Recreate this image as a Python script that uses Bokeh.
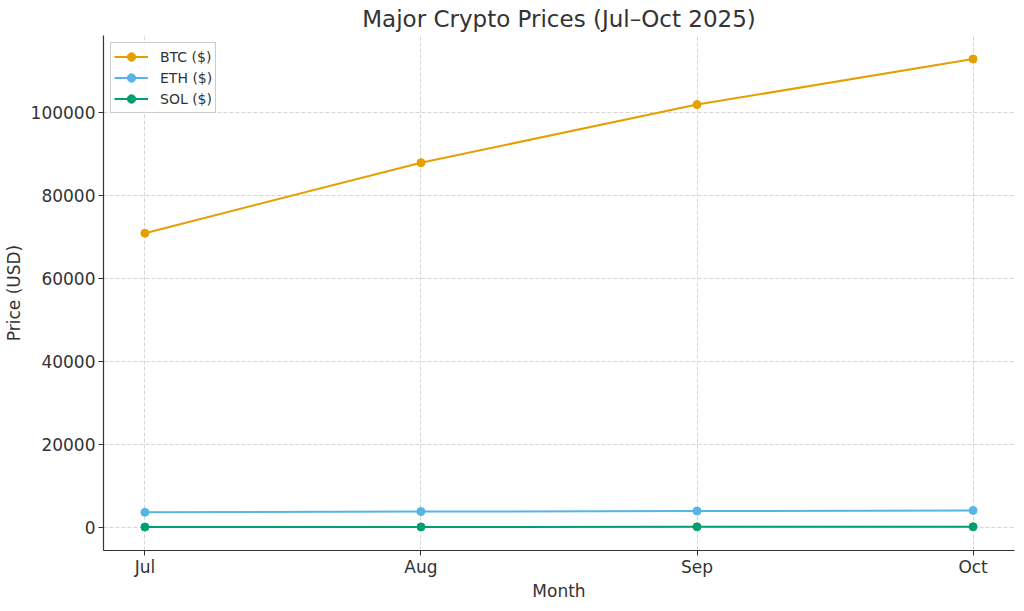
from bokeh.plotting import figure
from bokeh.models import FixedTicker, Range1d, Legend, LegendItem
from bokeh.embed import file_html
from bokeh.resources import INLINE

months = ["Jul", "Aug", "Sep", "Oct"]
btc = [71000, 88000, 102000, 113000]
eth = [3700, 3900, 4000, 4150]
sol = [160, 185, 210, 220]

series = [("BTC ($)", btc, "#E69F00"), ("ETH ($)", eth, "#56B4E9"), ("SOL ($)", sol, "#009E73")]

x = list(range(len(months)))

FONT = "DejaVu Sans"

p = figure(width=1016, height=603, output_backend="svg", toolbar_location=None,
           x_range=Range1d(-0.15, 3.15), y_range=Range1d(-5500, 118660),
           min_border_left=90, min_border_right=2, min_border_top=0, min_border_bottom=0)

p.title.text = "Major Crypto Prices (Jul\u2013Oct 2025)"
p.title.align = "center"
p.title.text_font = FONT
p.title.text_font_size = "23px"
p.title.text_font_style = "normal"
p.title.text_color = "#333333"
p.title.standoff = 7

items = []
for name, vals, col in series:
    r1 = p.line(x, vals, line_color=col, line_width=2)
    r2 = p.scatter(x, vals, size=8, fill_color=col, line_color=col)
    items.append(LegendItem(label=name, renderers=[r1, r2]))

legend = Legend(items=items, location="top_left")
legend.label_text_font = FONT
legend.label_text_font_size = "14px"
legend.label_text_color = "#333333"
legend.border_line_color = "#cccccc"
legend.border_line_alpha = 1
legend.background_fill_alpha = 0.85
legend.margin = 7
legend.padding = 3
legend.spacing = 0
legend.glyph_width = 34
legend.label_standoff = 12
legend.label_height = 21
legend.glyph_height = 21
p.add_layout(legend)

p.xaxis.ticker = FixedTicker(ticks=x)
p.xaxis.major_label_overrides = {i: m for i, m in enumerate(months)}
p.yaxis.ticker = FixedTicker(ticks=[0, 20000, 40000, 60000, 80000, 100000])
p.yaxis.formatter.use_scientific = False

p.xaxis.axis_label = "Month"
p.yaxis.axis_label = "Price (USD)"
for ax in (p.xaxis, p.yaxis):
    ax.axis_label_text_font = FONT
    ax.axis_label_text_font_size = "17px"
    ax.axis_label_text_font_style = "normal"
    ax.axis_label_text_color = "#333333"
    ax.major_label_text_font = FONT
    ax.major_label_text_font_size = "17px"
    ax.major_label_text_color = "#333333"
    ax.axis_line_color = "#333333"
    ax.axis_line_width = 1.2
    ax.major_tick_line_color = "#333333"
    ax.major_tick_out = 5
    ax.major_tick_in = 0
    ax.minor_tick_line_color = None
p.xaxis.axis_label_standoff = 1
p.xaxis.major_label_standoff = 1
p.yaxis.axis_label_standoff = 4
p.yaxis.major_label_standoff = 3

p.grid.grid_line_color = "#cccccc"
p.grid.grid_line_dash = "4 2"
p.grid.grid_line_width = 0.8
p.outline_line_color = None
p.background_fill_color = "white"

open("out.html", "w").write(file_html(p, INLINE))
